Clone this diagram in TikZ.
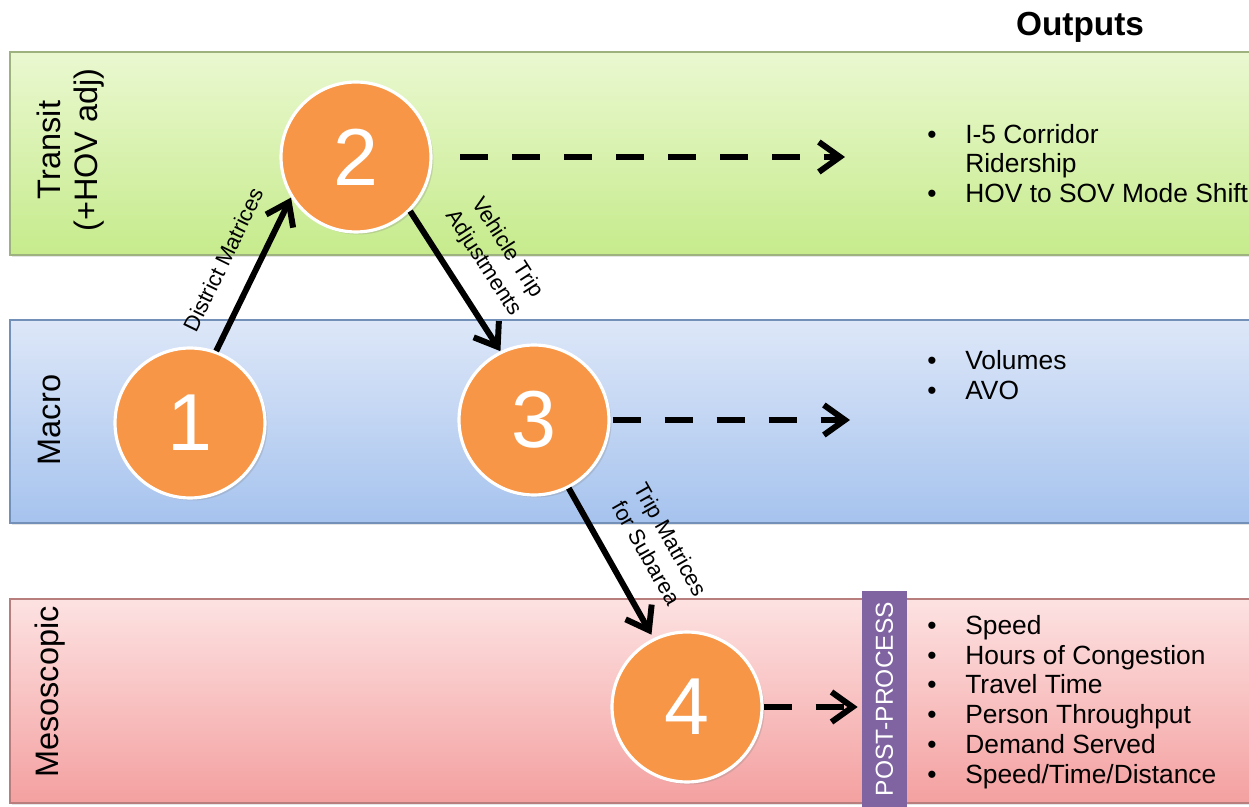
\documentclass[tikz,border=0pt]{standalone}
\usepackage{fontspec}
\setmainfont{Liberation Sans}
\usepackage{tikz}
\usetikzlibrary{arrows.meta, positioning, shadows}

\definecolor{transittop}{HTML}{EAF8D0}
\definecolor{transitbottom}{HTML}{C6EB8C}
\definecolor{transitedge}{HTML}{9DB27E}
\definecolor{macrotop}{HTML}{DDE7F8}
\definecolor{macrobottom}{HTML}{A6C3EE}
\definecolor{macroedge}{HTML}{7290B8}
\definecolor{mesotop}{HTML}{FDE2E2}
\definecolor{mesobottom}{HTML}{F4A0A0}
\definecolor{mesoedge}{HTML}{B87E7E}
\definecolor{stageorange}{HTML}{F79646}
\definecolor{postpurple}{HTML}{8064A2}

\newcommand{\bul}{\makebox[0.76cm][l]{\textbullet}}

\begin{document}
\begin{tikzpicture}[x=0.02cm, y=-0.02cm]
\tikzstyle{band} = [rectangle, minimum width=25cm, minimum height=4.06cm, line width=0.8pt,
                    drop shadow={opacity=0.2, shadow xshift=0.04cm, shadow yshift=-0.05cm}]
\tikzstyle{bandlabel} = [rotate=90, align=center, font=\fontsize{18.5}{21}\selectfont]
\tikzstyle{stage} = [circle, draw=white, line width=1.8pt, fill=stageorange, minimum size=3cm,
                     text=white, font=\fontsize{46}{46}\selectfont,
                     drop shadow={opacity=0.25, shadow xshift=0.05cm, shadow yshift=-0.05cm}]
\tikzstyle{outlist} = [anchor=west, align=left, inner sep=0pt, font=\fontsize{15}{17}\selectfont]
\tikzstyle{flow} = [-{Straight Barb[length=0.42cm, width=0.6cm]}, line width=3.4pt]
\tikzstyle{feed} = [flow, dash pattern=on 0.56cm off 0.48cm]
\tikzstyle{flowlabel} = [sloped, inner sep=0pt, align=center, font=\fontsize{12.5}{16}\selectfont]

\useasboundingbox (0,0) rectangle (1249,807);
\fill[white] (0,0) rectangle (1249,807);

% layers
\node[band, draw=transitedge, top color=transittop, bottom color=transitbottom] (transit) at (635,153.5) {};
\node[band, draw=macroedge, top color=macrotop, bottom color=macrobottom] (macro) at (635,421.5) {};
\node[band, draw=mesoedge, top color=mesotop, bottom color=mesobottom, minimum height=4.08cm] (meso) at (635,701) {};

\node[bandlabel] (transitlabel) at (71,150) {Transit\\(+HOV adj)};
\node[bandlabel] (macrolabel) at (49,420) {Macro};
\node[bandlabel] (mesolabel) at (50,692) {Mesoscopic};

% model steps
\node[stage] (one) at (190,423) {1};
\node[stage] (two) at (356,157) {2};
\node[stage] (three) at (534,420) {3};
\node[stage] (four) at (687,707) {4};

\draw[flow] (one.70) -- node[flowlabel, above=0.45cm] {District Matrices} (two.212);
\draw[flow] (two.-45) -- node[flowlabel, above=0.4cm] {Vehicle Trip\\Adjustments} (three.116);
\draw[flow, shorten >=0.08cm] (three.-63) -- node[flowlabel, above=0.5cm, pos=0.55] {Trip Matrices\\for Subarea} (four.116);

% outputs
\node[font=\fontsize{19}{19}\selectfont\bfseries] (outputs) at (1080,27) {Outputs};
\node[rotate=90, fill=postpurple, text=white, minimum width=4.32cm, minimum height=0.9cm,
      inner sep=0pt, font=\fontsize{14}{14}\selectfont] (post) at (884.5,699) {POST-PROCESS};

\node[outlist] (transitout) at (927,163.5) {\bul I-5 Corridor\\\phantom{\bul}Ridership\\\bul HOV to SOV Mode Shift};
\node[outlist] (macroout) at (927,375) {\bul Volumes\\\bul AVO};
\node[outlist] (mesoout) at (927,702) {\bul Speed\\\bul Hours of Congestion\\\bul Travel Time\\\bul Person Throughput\\\bul Demand Served\\\bul Speed/Time/Distance};

\coordinate (transitend) at (845,157);
\coordinate (macroend) at (850,420);
\draw[feed, shorten <=0.55cm] (two.east) -- (transitend);
\draw[feed, shorten <=0.04cm] (three.east) -- (macroend);
\draw[feed, shorten >=0.08cm] (four.east) -- (four.east -| post.north);
\end{tikzpicture}
\end{document}
